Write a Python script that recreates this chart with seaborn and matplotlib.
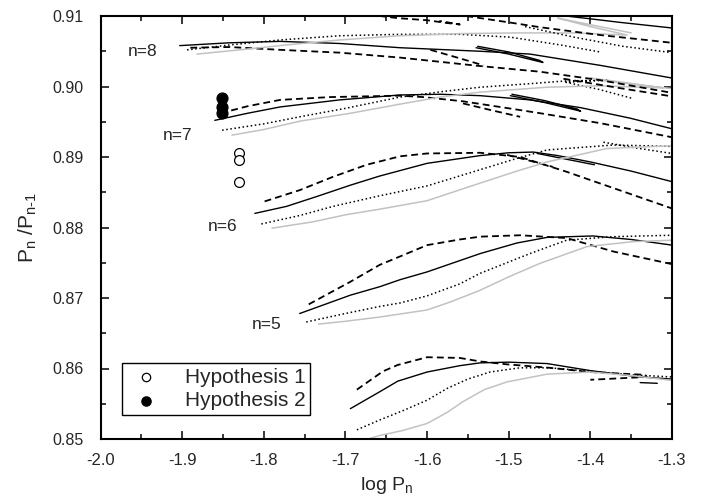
import matplotlib
matplotlib.use("Agg")
import matplotlib.pyplot as plt
import seaborn as sns
import numpy as np
from matplotlib.ticker import MultipleLocator, FormatStrFormatter

# ---------------- data (log P_n , P_n/P_{n-1}) ----------------
# n = 4 group (bottom, unlabeled)
s4_x = [-1.694, -1.658, -1.636, -1.600, -1.560, -1.535, -1.500, -1.453, -1.400, -1.339, -1.300]
s4_y = [0.8543, 0.8567, 0.8582, 0.8595, 0.8604, 0.8608, 0.8609, 0.8607, 0.8597, 0.8588, 0.8585]
s4h_x = [-1.339, -1.318]
s4h_y = [0.8580, 0.8579]
d4_x = [-1.686, -1.654, -1.636, -1.600, -1.560, -1.535, -1.503, -1.450, -1.400, -1.333, -1.331, -1.400]
d4_y = [0.8570, 0.8596, 0.8605, 0.8616, 0.8615, 0.8610, 0.8606, 0.8601, 0.8595, 0.8591, 0.8588, 0.8584]
o4_x = [-1.686, -1.658, -1.630, -1.600, -1.575, -1.550, -1.523, -1.486, -1.450, -1.400, -1.350, -1.300]
o4_y = [0.8513, 0.8527, 0.8540, 0.8555, 0.8572, 0.8585, 0.8595, 0.8601, 0.8601, 0.8596, 0.8591, 0.8588]
g4_x = [-1.675, -1.658, -1.630, -1.600, -1.575, -1.556, -1.530, -1.502, -1.453, -1.400, -1.350, -1.300]
g4_y = [0.8499, 0.8505, 0.8512, 0.8522, 0.8538, 0.8553, 0.8570, 0.8581, 0.8592, 0.8595, 0.8590, 0.8583]

# n = 5
s5_x = [-1.756, -1.694, -1.658, -1.633, -1.600, -1.535, -1.490, -1.453, -1.397, -1.350, -1.300]
s5_y = [0.8678, 0.8704, 0.8716, 0.8726, 0.8737, 0.8763, 0.8778, 0.8786, 0.8788, 0.8783, 0.8775]
d5_x = [-1.745, -1.694, -1.658, -1.633, -1.600, -1.560, -1.535, -1.486, -1.429, -1.372, -1.300]
d5_y = [0.8691, 0.8723, 0.8747, 0.8759, 0.8775, 0.8783, 0.8787, 0.8789, 0.8785, 0.8766, 0.8748]
o5_x = [-1.748, -1.700, -1.658, -1.633, -1.600, -1.560, -1.535, -1.474, -1.429, -1.372, -1.300]
o5_y = [0.8666, 0.8678, 0.8688, 0.8693, 0.8703, 0.8720, 0.8735, 0.8763, 0.8782, 0.8787, 0.8789]
g5_x = [-1.733, -1.700, -1.658, -1.600, -1.570, -1.535, -1.500, -1.462, -1.404, -1.347, -1.300]
g5_y = [0.8663, 0.8667, 0.8673, 0.8683, 0.8695, 0.8711, 0.8730, 0.8749, 0.8773, 0.8780, 0.8782]

# n = 6
s6_x = [-1.811, -1.772, -1.735, -1.694, -1.658, -1.600, -1.535, -1.500, -1.470, -1.440, -1.400, -1.350, -1.300]
s6_y = [0.8820, 0.8830, 0.8844, 0.8860, 0.8873, 0.8891, 0.8902, 0.8906, 0.8907, 0.8902, 0.8893, 0.8880, 0.8865]
s6h_x = [-1.465, -1.430, -1.395]
s6h_y = [0.8905, 0.8897, 0.8889]
d6_x = [-1.799, -1.756, -1.715, -1.674, -1.633, -1.600, -1.535, -1.486, -1.429, -1.372, -1.300]
d6_y = [0.8837, 0.8853, 0.8872, 0.8889, 0.8901, 0.8905, 0.8906, 0.8900, 0.8879, 0.8856, 0.8827]
d6h_x = [-1.502, -1.475, -1.446]
d6h_y = [0.8903, 0.8895, 0.8886]
o6_x = [-1.803, -1.756, -1.715, -1.658, -1.600, -1.535, -1.490, -1.453, -1.372, -1.300]
o6_y = [0.8805, 0.8817, 0.8830, 0.8845, 0.8859, 0.8882, 0.8898, 0.8910, 0.8917, 0.8915]
o6h_x = [-1.384, -1.345, -1.300]
o6h_y = [0.8921, 0.8913, 0.8905]
g6_x = [-1.790, -1.740, -1.700, -1.658, -1.600, -1.535, -1.490, -1.453, -1.380, -1.300]
g6_y = [0.8799, 0.8808, 0.8818, 0.8826, 0.8838, 0.8863, 0.8880, 0.8893, 0.8912, 0.8916]

# n = 7
s7_x = [-1.860, -1.820, -1.780, -1.707, -1.633, -1.584, -1.535, -1.474, -1.412, -1.351, -1.300]
s7_y = [0.8952, 0.8962, 0.8971, 0.8981, 0.8988, 0.8989, 0.8987, 0.8981, 0.8970, 0.8955, 0.8940]
s7h_x = [-1.498, -1.455, -1.412, -1.416, -1.456, -1.496]
s7h_y = [0.8987, 0.8977, 0.8965, 0.8968, 0.8980, 0.8989]
d7_x = [-1.853, -1.820, -1.780, -1.719, -1.633, -1.605, -1.556, -1.494, -1.461, -1.388, -1.300]
d7_y = [0.8962, 0.8972, 0.8981, 0.8985, 0.8987, 0.8985, 0.8979, 0.8968, 0.8962, 0.8948, 0.8928]
d7h_x = [-1.556, -1.520, -1.486]
d7h_y = [0.8976, 0.8966, 0.8957]
o7_x = [-1.851, -1.800, -1.756, -1.700, -1.633, -1.580, -1.535, -1.474, -1.429, -1.380, -1.430, -1.390, -1.348]
o7_y = [0.8938, 0.8947, 0.8957, 0.8969, 0.8985, 0.8993, 0.8999, 0.9004, 0.9008, 0.9009, 0.9006, 0.8996, 0.8983]
g7_x = [-1.839, -1.800, -1.755, -1.694, -1.633, -1.584, -1.535, -1.453, -1.388, -1.311, -1.360, -1.400, -1.390, -1.340, -1.300]
g7_y = [0.8931, 0.8939, 0.8951, 0.8962, 0.8975, 0.8985, 0.8992, 0.8999, 0.9001, 0.8998, 0.9006, 0.9012, 0.9009, 0.9002, 0.8997]

# n = 8
s8_x = [-1.903, -1.842, -1.780, -1.707, -1.633, -1.535, -1.474, -1.388, -1.300]
s8_y = [0.9058, 0.9062, 0.9064, 0.9061, 0.9055, 0.9050, 0.9046, 0.9030, 0.9012]
s8h_x = [-1.540, -1.500, -1.458, -1.462, -1.500, -1.538]
s8h_y = [0.9055, 0.9046, 0.9034, 0.9037, 0.9049, 0.9057]
d8_x = [-1.890, -1.842, -1.780, -1.707, -1.633, -1.535, -1.462, -1.388, -1.300]
d8_y = [0.9055, 0.9056, 0.9052, 0.9048, 0.9041, 0.9029, 0.9021, 0.9009, 0.8991]
d8h_x = [-1.596, -1.560, -1.531]
d8h_y = [0.9052, 0.9040, 0.9030]
d8t_x = [-1.433, -1.360, -1.300]
d8t_y = [0.9011, 0.8997, 0.8986]
o8_x = [-1.894, -1.841, -1.780, -1.707, -1.633, -1.560, -1.498, -1.437, -1.388]
o8_y = [0.9052, 0.9059, 0.9066, 0.9072, 0.9074, 0.9074, 0.9070, 0.9059, 0.9049]
g8_x = [-1.882, -1.829, -1.772, -1.707, -1.633, -1.560, -1.490, -1.420, -1.355, -1.400, -1.440, -1.410, -1.350]
g8_y = [0.9046, 0.9052, 0.9059, 0.9066, 0.9072, 0.9075, 0.9076, 0.9076, 0.9073, 0.9085, 0.9097, 0.9090, 0.9076]

# n = 9 (partly off the top)
s9_x = [-1.445, -1.400, -1.364, -1.300]
s9_y = [0.9102, 0.9096, 0.9091, 0.9083]
d9a_x = [-1.672, -1.636, -1.600, -1.575, -1.560, -1.585]
d9a_y = [0.9102, 0.9097, 0.9094, 0.9090, 0.9088, 0.9093]
d9b_x = [-1.552, -1.500, -1.461, -1.388, -1.300]
d9b_y = [0.9100, 0.9091, 0.9084, 0.9073, 0.9062]
o9_x = [-1.480, -1.420, -1.360, -1.300]
o9_y = [0.9085, 0.9070, 0.9057, 0.9048]

# hypotheses
h1_x = [-1.830, -1.830, -1.830]
h1_y = [0.8906, 0.8896, 0.8864]
h2_x = [-1.851, -1.851, -1.851]
h2_y = [0.8983, 0.8971, 0.8962]

labels_txt = ["n=8", "n=7", "n=6", "n=5"]
labels_x = [-1.949, -1.906, -1.851, -1.796]
labels_y = [0.9049, 0.8930, 0.8802, 0.8663]

# ---------------- styling ----------------
sns.set_style("ticks")
plt.rcParams["font.family"] = ["Liberation Sans", "DejaVu Sans"]
plt.rcParams["mathtext.fontset"] = "custom"
plt.rcParams["mathtext.rm"] = "Liberation Sans"
plt.rcParams["axes.unicode_minus"] = False

STY = {
    "solid": dict(color="black", linewidth=1.0, linestyle="-"),
    "dash": dict(color="black", linewidth=1.3, linestyle=(0, (3.8, 2.3))),
    "dot": dict(color="black", linewidth=1.1, linestyle=(0, (1, 1.7))),
    "gray": dict(color="#c2c2c2", linewidth=1.1, linestyle="-"),
}

curves = [
    (s4_x, s4_y, "solid"), (s4h_x, s4h_y, "solid"), (d4_x, d4_y, "dash"), (o4_x, o4_y, "dot"), (g4_x, g4_y, "gray"),
    (s5_x, s5_y, "solid"), (d5_x, d5_y, "dash"), (o5_x, o5_y, "dot"), (g5_x, g5_y, "gray"),
    (s6_x, s6_y, "solid"), (s6h_x, s6h_y, "solid"), (d6_x, d6_y, "dash"), (d6h_x, d6h_y, "dash"),
    (o6_x, o6_y, "dot"), (o6h_x, o6h_y, "dot"), (g6_x, g6_y, "gray"),
    (s7_x, s7_y, "solid"), (s7h_x, s7h_y, "solid"), (d7_x, d7_y, "dash"), (d7h_x, d7h_y, "dash"),
    (o7_x, o7_y, "dot"), (g7_x, g7_y, "gray"),
    (s8_x, s8_y, "solid"), (s8h_x, s8h_y, "solid"), (d8_x, d8_y, "dash"), (d8h_x, d8h_y, "dash"),
    (d8t_x, d8t_y, "dash"), (o8_x, o8_y, "dot"), (g8_x, g8_y, "gray"),
    (s9_x, s9_y, "solid"), (d9a_x, d9a_y, "dash"), (d9b_x, d9b_y, "dash"), (o9_x, o9_y, "dot"),
]

fig = plt.figure(figsize=(7.02, 5.01), dpi=100)
ax = fig.add_axes([100.5 / 702, (501 - 439) / 501, (672 - 100.5) / 702, (439 - 16) / 501])

for cx, cy, st in curves:
    sns.lineplot(x=cx, y=cy, sort=False, estimator=None, ax=ax, legend=False, **STY[st])

sns.scatterplot(x=h1_x, y=h1_y, ax=ax, marker="o", s=50, facecolor="white",
                edgecolor="black", linewidth=0.9, label="Hypothesis 1", zorder=5)
sns.scatterplot(x=h2_x, y=h2_y, ax=ax, marker="o", s=62, color="black",
                edgecolor="black", linewidth=0.9, label="Hypothesis 2", zorder=5)

for t, lx, ly in zip(labels_txt, labels_x, labels_y):
    ax.text(lx, ly, t, fontsize=12.5, ha="center", va="center")

ax.set_xlim(-2.0, -1.3)
ax.set_ylim(0.85, 0.91)
ax.xaxis.set_major_locator(MultipleLocator(0.1))
ax.xaxis.set_minor_locator(MultipleLocator(0.05))
ax.yaxis.set_major_locator(MultipleLocator(0.01))
ax.yaxis.set_minor_locator(MultipleLocator(0.005))
ax.xaxis.set_major_formatter(FormatStrFormatter("%.1f"))
ax.yaxis.set_major_formatter(FormatStrFormatter("%.2f"))
ax.tick_params(which="both", direction="in", top=True, right=True, width=1.1, color="black")
ax.tick_params(which="major", length=6)
ax.tick_params(which="minor", length=3.5)
ax.tick_params(axis="y", which="major", labelsize=11.5, pad=12)
ax.tick_params(axis="x", which="major", labelsize=12, pad=10)
for sp in ax.spines.values():
    sp.set_visible(True)
    sp.set_linewidth(1.5)
    sp.set_color("black")

ax.set_xlabel(r"log P$_\mathregular{n}$", fontsize=14, labelpad=5)
ax.set_ylabel(r"P$_\mathregular{n}$ /P$_\text{n-1}$", fontsize=15, labelpad=10)

leg = ax.legend(loc="lower left", bbox_to_anchor=(0.037, 0.057), borderaxespad=0,
                fontsize=15, frameon=True, fancybox=False, edgecolor="black",
                framealpha=1, borderpad=0.22, handletextpad=0.9, labelspacing=0.22,
                handlelength=1.9, markerscale=0.85)
leg.get_frame().set_linewidth(1.0)

fig.savefig("out.png", dpi=100)
